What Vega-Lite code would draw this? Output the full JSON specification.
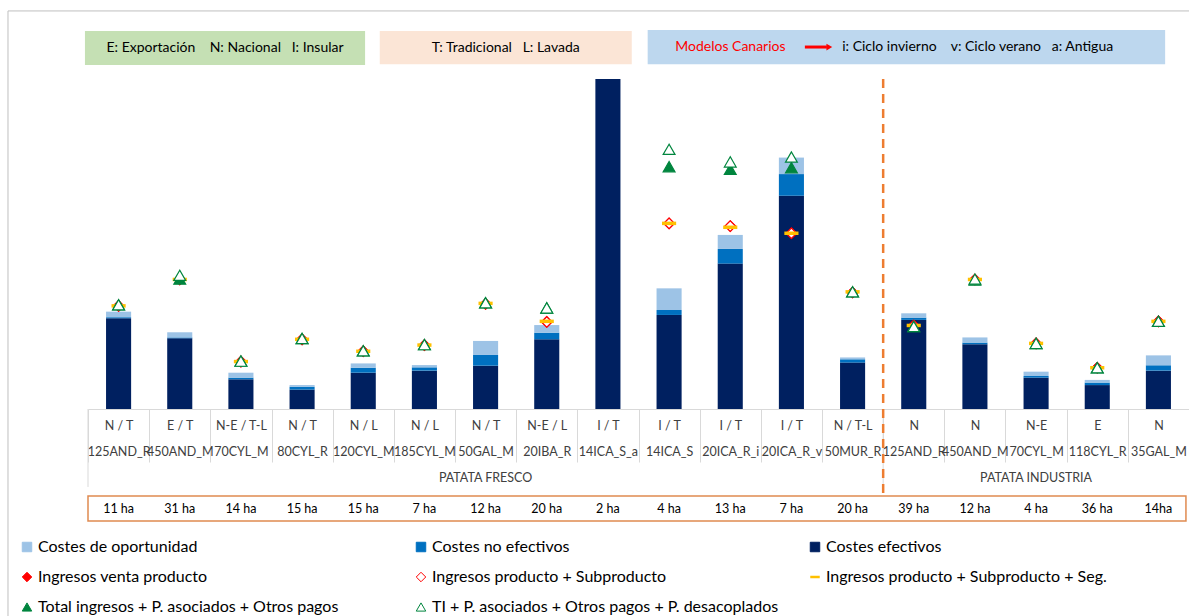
{
  "$schema": "https://vega.github.io/schema/vega-lite/v6.json",
  "autosize": {"type": "none"},
  "padding": {"left": 88, "top": 79, "right": 0, "bottom": 207},
  "width": 1101,
  "height": 330,
  "background": "white",
  "config": {
    "font": "Lato",
    "view": {"stroke": null}
  },
  "datasets": {
    "costes": [
      {"cat": "N / T|125AND_R", "serie": "Costes efectivos", "nivel": 1, "valor": 440},
      {"cat": "N / T|125AND_R", "serie": "Costes no efectivos", "nivel": 2, "valor": 5},
      {"cat": "N / T|125AND_R", "serie": "Costes de oportunidad", "nivel": 3, "valor": 27},
      {"cat": "E / T|450AND_M", "serie": "Costes efectivos", "nivel": 1, "valor": 343},
      {"cat": "E / T|450AND_M", "serie": "Costes no efectivos", "nivel": 2, "valor": 4},
      {"cat": "E / T|450AND_M", "serie": "Costes de oportunidad", "nivel": 3, "valor": 25},
      {"cat": "N-E / T-L|70CYL_M", "serie": "Costes efectivos", "nivel": 1, "valor": 144},
      {"cat": "N-E / T-L|70CYL_M", "serie": "Costes no efectivos", "nivel": 2, "valor": 8},
      {"cat": "N-E / T-L|70CYL_M", "serie": "Costes de oportunidad", "nivel": 3, "valor": 24},
      {"cat": "N / T|80CYL_R", "serie": "Costes efectivos", "nivel": 1, "valor": 94},
      {"cat": "N / T|80CYL_R", "serie": "Costes no efectivos", "nivel": 2, "valor": 14},
      {"cat": "N / T|80CYL_R", "serie": "Costes de oportunidad", "nivel": 3, "valor": 8},
      {"cat": "N / L|120CYL_M", "serie": "Costes efectivos", "nivel": 1, "valor": 176},
      {"cat": "N / L|120CYL_M", "serie": "Costes no efectivos", "nivel": 2, "valor": 24},
      {"cat": "N / L|120CYL_M", "serie": "Costes de oportunidad", "nivel": 3, "valor": 21},
      {"cat": "N / L|185CYL_M", "serie": "Costes efectivos", "nivel": 1, "valor": 186},
      {"cat": "N / L|185CYL_M", "serie": "Costes no efectivos", "nivel": 2, "valor": 16},
      {"cat": "N / L|185CYL_M", "serie": "Costes de oportunidad", "nivel": 3, "valor": 11},
      {"cat": "N / T|50GAL_M", "serie": "Costes efectivos", "nivel": 1, "valor": 210},
      {"cat": "N / T|50GAL_M", "serie": "Costes no efectivos", "nivel": 2, "valor": 52},
      {"cat": "N / T|50GAL_M", "serie": "Costes de oportunidad", "nivel": 3, "valor": 68},
      {"cat": "N-E / L|20IBA_R", "serie": "Costes efectivos", "nivel": 1, "valor": 338},
      {"cat": "N-E / L|20IBA_R", "serie": "Costes no efectivos", "nivel": 2, "valor": 32},
      {"cat": "N-E / L|20IBA_R", "serie": "Costes de oportunidad", "nivel": 3, "valor": 37},
      {"cat": "I / T|14ICA_S_a", "serie": "Costes efectivos", "nivel": 1, "valor": 2100},
      {"cat": "I / T|14ICA_S", "serie": "Costes efectivos", "nivel": 1, "valor": 456},
      {"cat": "I / T|14ICA_S", "serie": "Costes no efectivos", "nivel": 2, "valor": 24},
      {"cat": "I / T|14ICA_S", "serie": "Costes de oportunidad", "nivel": 3, "valor": 105},
      {"cat": "I / T|20ICA_R_i", "serie": "Costes efectivos", "nivel": 1, "valor": 705},
      {"cat": "I / T|20ICA_R_i", "serie": "Costes no efectivos", "nivel": 2, "valor": 71},
      {"cat": "I / T|20ICA_R_i", "serie": "Costes de oportunidad", "nivel": 3, "valor": 68},
      {"cat": "I / T|20ICA_R_v", "serie": "Costes efectivos", "nivel": 1, "valor": 1034},
      {"cat": "I / T|20ICA_R_v", "serie": "Costes no efectivos", "nivel": 2, "valor": 105},
      {"cat": "I / T|20ICA_R_v", "serie": "Costes de oportunidad", "nivel": 3, "valor": 80},
      {"cat": "N / T-L|50MUR_R", "serie": "Costes efectivos", "nivel": 1, "valor": 225},
      {"cat": "N / T-L|50MUR_R", "serie": "Costes no efectivos", "nivel": 2, "valor": 16},
      {"cat": "N / T-L|50MUR_R", "serie": "Costes de oportunidad", "nivel": 3, "valor": 9},
      {"cat": "N|125AND_R", "serie": "Costes efectivos", "nivel": 1, "valor": 432},
      {"cat": "N|125AND_R", "serie": "Costes no efectivos", "nivel": 2, "valor": 11},
      {"cat": "N|125AND_R", "serie": "Costes de oportunidad", "nivel": 3, "valor": 21},
      {"cat": "N|450AND_M", "serie": "Costes efectivos", "nivel": 1, "valor": 314},
      {"cat": "N|450AND_M", "serie": "Costes no efectivos", "nivel": 2, "valor": 8},
      {"cat": "N|450AND_M", "serie": "Costes de oportunidad", "nivel": 3, "valor": 25},
      {"cat": "N-E|70CYL_M", "serie": "Costes efectivos", "nivel": 1, "valor": 152},
      {"cat": "N-E|70CYL_M", "serie": "Costes no efectivos", "nivel": 2, "valor": 8},
      {"cat": "N-E|70CYL_M", "serie": "Costes de oportunidad", "nivel": 3, "valor": 21},
      {"cat": "E|118CYL_R", "serie": "Costes efectivos", "nivel": 1, "valor": 116},
      {"cat": "E|118CYL_R", "serie": "Costes no efectivos", "nivel": 2, "valor": 12},
      {"cat": "E|118CYL_R", "serie": "Costes de oportunidad", "nivel": 3, "valor": 13},
      {"cat": "N|35GAL_M", "serie": "Costes efectivos", "nivel": 1, "valor": 186},
      {"cat": "N|35GAL_M", "serie": "Costes no efectivos", "nivel": 2, "valor": 26},
      {"cat": "N|35GAL_M", "serie": "Costes de oportunidad", "nivel": 3, "valor": 48}
    ],
    "ingresos": [
      {"cat": "N / T|125AND_R", "serie": "Ingresos venta producto", "valor": 500},
      {"cat": "N / T|125AND_R", "serie": "Ingresos producto + Subproducto", "valor": 500},
      {"cat": "N / T|125AND_R", "serie": "Ingresos producto + Subproducto + Seg.", "valor": 500},
      {"cat": "N / T|125AND_R", "serie": "Total ingresos + P. asociados + Otros pagos", "valor": 505},
      {"cat": "N / T|125AND_R", "serie": "TI + P. asociados + Otros pagos + P. desacoplados", "valor": 505},
      {"cat": "E / T|450AND_M", "serie": "Ingresos venta producto", "valor": 628},
      {"cat": "E / T|450AND_M", "serie": "Ingresos producto + Subproducto", "valor": 628},
      {"cat": "E / T|450AND_M", "serie": "Ingresos producto + Subproducto + Seg.", "valor": 628},
      {"cat": "E / T|450AND_M", "serie": "Total ingresos + P. asociados + Otros pagos", "valor": 630},
      {"cat": "E / T|450AND_M", "serie": "TI + P. asociados + Otros pagos + P. desacoplados", "valor": 648},
      {"cat": "N-E / T-L|70CYL_M", "serie": "Ingresos venta producto", "valor": 230},
      {"cat": "N-E / T-L|70CYL_M", "serie": "Ingresos producto + Subproducto", "valor": 230},
      {"cat": "N-E / T-L|70CYL_M", "serie": "Ingresos producto + Subproducto + Seg.", "valor": 230},
      {"cat": "N-E / T-L|70CYL_M", "serie": "Total ingresos + P. asociados + Otros pagos", "valor": 232},
      {"cat": "N-E / T-L|70CYL_M", "serie": "TI + P. asociados + Otros pagos + P. desacoplados", "valor": 232},
      {"cat": "N / T|80CYL_R", "serie": "Ingresos venta producto", "valor": 338},
      {"cat": "N / T|80CYL_R", "serie": "Ingresos producto + Subproducto", "valor": 338},
      {"cat": "N / T|80CYL_R", "serie": "Ingresos producto + Subproducto + Seg.", "valor": 338},
      {"cat": "N / T|80CYL_R", "serie": "Total ingresos + P. asociados + Otros pagos", "valor": 342},
      {"cat": "N / T|80CYL_R", "serie": "TI + P. asociados + Otros pagos + P. desacoplados", "valor": 342},
      {"cat": "N / L|120CYL_M", "serie": "Ingresos venta producto", "valor": 280},
      {"cat": "N / L|120CYL_M", "serie": "Ingresos producto + Subproducto", "valor": 280},
      {"cat": "N / L|120CYL_M", "serie": "Ingresos producto + Subproducto + Seg.", "valor": 280},
      {"cat": "N / L|120CYL_M", "serie": "Total ingresos + P. asociados + Otros pagos", "valor": 282},
      {"cat": "N / L|120CYL_M", "serie": "TI + P. asociados + Otros pagos + P. desacoplados", "valor": 282},
      {"cat": "N / L|185CYL_M", "serie": "Ingresos venta producto", "valor": 310},
      {"cat": "N / L|185CYL_M", "serie": "Ingresos producto + Subproducto", "valor": 310},
      {"cat": "N / L|185CYL_M", "serie": "Ingresos producto + Subproducto + Seg.", "valor": 310},
      {"cat": "N / L|185CYL_M", "serie": "Total ingresos + P. asociados + Otros pagos", "valor": 312},
      {"cat": "N / L|185CYL_M", "serie": "TI + P. asociados + Otros pagos + P. desacoplados", "valor": 312},
      {"cat": "N / T|50GAL_M", "serie": "Ingresos venta producto", "valor": 510},
      {"cat": "N / T|50GAL_M", "serie": "Ingresos producto + Subproducto", "valor": 510},
      {"cat": "N / T|50GAL_M", "serie": "Ingresos producto + Subproducto + Seg.", "valor": 512},
      {"cat": "N / T|50GAL_M", "serie": "Total ingresos + P. asociados + Otros pagos", "valor": 515},
      {"cat": "N / T|50GAL_M", "serie": "TI + P. asociados + Otros pagos + P. desacoplados", "valor": 515},
      {"cat": "N-E / L|20IBA_R", "serie": "Ingresos venta producto", "valor": 422},
      {"cat": "N-E / L|20IBA_R", "serie": "Ingresos producto + Subproducto", "valor": 422},
      {"cat": "N-E / L|20IBA_R", "serie": "Ingresos producto + Subproducto + Seg.", "valor": 425},
      {"cat": "N-E / L|20IBA_R", "serie": "Total ingresos + P. asociados + Otros pagos", "valor": 490},
      {"cat": "N-E / L|20IBA_R", "serie": "TI + P. asociados + Otros pagos + P. desacoplados", "valor": 490},
      {"cat": "I / T|14ICA_S", "serie": "Ingresos venta producto", "valor": 900},
      {"cat": "I / T|14ICA_S", "serie": "Ingresos producto + Subproducto", "valor": 900},
      {"cat": "I / T|14ICA_S", "serie": "Ingresos producto + Subproducto + Seg.", "valor": 900},
      {"cat": "I / T|14ICA_S", "serie": "Total ingresos + P. asociados + Otros pagos", "valor": 1175},
      {"cat": "I / T|14ICA_S", "serie": "TI + P. asociados + Otros pagos + P. desacoplados", "valor": 1259},
      {"cat": "I / T|20ICA_R_i", "serie": "Ingresos venta producto", "valor": 887},
      {"cat": "I / T|20ICA_R_i", "serie": "Ingresos producto + Subproducto", "valor": 887},
      {"cat": "I / T|20ICA_R_i", "serie": "Ingresos producto + Subproducto + Seg.", "valor": 881},
      {"cat": "I / T|20ICA_R_i", "serie": "Total ingresos + P. asociados + Otros pagos", "valor": 1162},
      {"cat": "I / T|20ICA_R_i", "serie": "TI + P. asociados + Otros pagos + P. desacoplados", "valor": 1198},
      {"cat": "I / T|20ICA_R_v", "serie": "Ingresos venta producto", "valor": 852},
      {"cat": "I / T|20ICA_R_v", "serie": "Ingresos producto + Subproducto", "valor": 852},
      {"cat": "I / T|20ICA_R_v", "serie": "Ingresos producto + Subproducto + Seg.", "valor": 852},
      {"cat": "I / T|20ICA_R_v", "serie": "Total ingresos + P. asociados + Otros pagos", "valor": 1170},
      {"cat": "I / T|20ICA_R_v", "serie": "TI + P. asociados + Otros pagos + P. desacoplados", "valor": 1222},
      {"cat": "N / T-L|50MUR_R", "serie": "Ingresos venta producto", "valor": 565},
      {"cat": "N / T-L|50MUR_R", "serie": "Ingresos producto + Subproducto", "valor": 565},
      {"cat": "N / T-L|50MUR_R", "serie": "Ingresos producto + Subproducto + Seg.", "valor": 568},
      {"cat": "N / T-L|50MUR_R", "serie": "Total ingresos + P. asociados + Otros pagos", "valor": 568},
      {"cat": "N / T-L|50MUR_R", "serie": "TI + P. asociados + Otros pagos + P. desacoplados", "valor": 568},
      {"cat": "N|125AND_R", "serie": "Ingresos venta producto", "valor": 405},
      {"cat": "N|125AND_R", "serie": "Ingresos producto + Subproducto", "valor": 405},
      {"cat": "N|125AND_R", "serie": "Ingresos producto + Subproducto + Seg.", "valor": 405},
      {"cat": "N|125AND_R", "serie": "Total ingresos + P. asociados + Otros pagos", "valor": 400},
      {"cat": "N|125AND_R", "serie": "TI + P. asociados + Otros pagos + P. desacoplados", "valor": 400},
      {"cat": "N|450AND_M", "serie": "Ingresos venta producto", "valor": 628},
      {"cat": "N|450AND_M", "serie": "Ingresos producto + Subproducto", "valor": 628},
      {"cat": "N|450AND_M", "serie": "Ingresos producto + Subproducto + Seg.", "valor": 628},
      {"cat": "N|450AND_M", "serie": "Total ingresos + P. asociados + Otros pagos", "valor": 625},
      {"cat": "N|450AND_M", "serie": "TI + P. asociados + Otros pagos + P. desacoplados", "valor": 630},
      {"cat": "N-E|70CYL_M", "serie": "Ingresos venta producto", "valor": 318},
      {"cat": "N-E|70CYL_M", "serie": "Ingresos producto + Subproducto", "valor": 318},
      {"cat": "N-E|70CYL_M", "serie": "Ingresos producto + Subproducto + Seg.", "valor": 318},
      {"cat": "N-E|70CYL_M", "serie": "Total ingresos + P. asociados + Otros pagos", "valor": 318},
      {"cat": "N-E|70CYL_M", "serie": "TI + P. asociados + Otros pagos + P. desacoplados", "valor": 318},
      {"cat": "E|118CYL_R", "serie": "Ingresos venta producto", "valor": 200},
      {"cat": "E|118CYL_R", "serie": "Ingresos producto + Subproducto", "valor": 200},
      {"cat": "E|118CYL_R", "serie": "Ingresos producto + Subproducto + Seg.", "valor": 200},
      {"cat": "E|118CYL_R", "serie": "Total ingresos + P. asociados + Otros pagos", "valor": 200},
      {"cat": "E|118CYL_R", "serie": "TI + P. asociados + Otros pagos + P. desacoplados", "valor": 200},
      {"cat": "N|35GAL_M", "serie": "Ingresos venta producto", "valor": 425},
      {"cat": "N|35GAL_M", "serie": "Ingresos producto + Subproducto", "valor": 425},
      {"cat": "N|35GAL_M", "serie": "Ingresos producto + Subproducto + Seg.", "valor": 425},
      {"cat": "N|35GAL_M", "serie": "Total ingresos + P. asociados + Otros pagos", "valor": 425},
      {"cat": "N|35GAL_M", "serie": "TI + P. asociados + Otros pagos + P. desacoplados", "valor": 425}
    ],
    "fincas": [
      {"cat": "N / T|125AND_R", "superficie": "11 ha"},
      {"cat": "E / T|450AND_M", "superficie": "31 ha"},
      {"cat": "N-E / T-L|70CYL_M", "superficie": "14 ha"},
      {"cat": "N / T|80CYL_R", "superficie": "15 ha"},
      {"cat": "N / L|120CYL_M", "superficie": "15 ha"},
      {"cat": "N / L|185CYL_M", "superficie": "7 ha"},
      {"cat": "N / T|50GAL_M", "superficie": "12 ha"},
      {"cat": "N-E / L|20IBA_R", "superficie": "20 ha"},
      {"cat": "I / T|14ICA_S_a", "superficie": "2 ha"},
      {"cat": "I / T|14ICA_S", "superficie": "4 ha"},
      {"cat": "I / T|20ICA_R_i", "superficie": "13 ha"},
      {"cat": "I / T|20ICA_R_v", "superficie": "7 ha"},
      {"cat": "N / T-L|50MUR_R", "superficie": "20 ha"},
      {"cat": "N|125AND_R", "superficie": "39 ha"},
      {"cat": "N|450AND_M", "superficie": "12 ha"},
      {"cat": "N-E|70CYL_M", "superficie": "4 ha"},
      {"cat": "E|118CYL_R", "superficie": "36 ha"},
      {"cat": "N|35GAL_M", "superficie": "14ha"}
    ],
    "grupos": [
      {"cat": "N / T|50GAL_M", "grupo": "PATATA FRESCO"},
      {"cat": "N-E|70CYL_M", "grupo": "PATATA INDUSTRIA"}
    ]
  },
  "resolve": {"scale": {"x": "independent"}},
  "layer": [
    {
      "data": {"values": [{}]},
      "layer": [
        {
          "mark": {"type": "rect", "fill": "transparent", "stroke": "#BFBFBF", "strokeWidth": 1},
          "encoding": {
            "x": {"datum": -1.308, "type": "quantitative", "scale": {"domain": [0, 18], "nice": false, "zero": false}, "axis": null},
            "x2": {"datum": 19},
            "y": {"datum": 1930, "type": "quantitative", "scale": {"domain": [0, 1600], "nice": false}, "axis": null},
            "y2": {"datum": -1500}
          }
        },
        {
          "mark": {"type": "rect", "fill": "#C5E0B4"},
          "encoding": {"x": {"datum": -0.05, "type": "quantitative", "axis": null}, "x2": {"datum": 4.53}, "y": {"datum": 1833, "type": "quantitative", "axis": null}, "y2": {"datum": 1668}}
        },
        {
          "mark": {"type": "rect", "fill": "#FBE5D6"},
          "encoding": {"x": {"datum": 4.77, "type": "quantitative", "axis": null}, "x2": {"datum": 8.89}, "y": {"datum": 1833, "type": "quantitative", "axis": null}, "y2": {"datum": 1672}}
        },
        {
          "mark": {"type": "rect", "fill": "#BDD7EE"},
          "encoding": {"x": {"datum": 9.15, "type": "quantitative", "axis": null}, "x2": {"datum": 17.61}, "y": {"datum": 1838, "type": "quantitative", "axis": null}, "y2": {"datum": 1672}}
        },
        {
          "mark": {"type": "rect", "fill": "transparent", "stroke": "#E08B50", "strokeWidth": 1.5},
          "encoding": {"x": {"datum": 0, "type": "quantitative", "axis": null}, "x2": {"datum": 17.95}, "y": {"datum": -422, "type": "quantitative", "axis": null}, "y2": {"datum": -543}}
        },
        {
          "mark": {"type": "text", "text": "E: Exportación\u00a0\u00a0\u00a0\u00a0N: Nacional\u00a0\u00a0\u00a0I: Insular", "fontSize": 14, "color": "#000000", "align": "center", "baseline": "middle"},
          "encoding": {"x": {"datum": 2.24, "type": "quantitative", "axis": null}, "y": {"datum": 1752, "type": "quantitative", "axis": null}}
        },
        {
          "mark": {"type": "text", "text": "T: Tradicional\u00a0\u00a0\u00a0L: Lavada", "fontSize": 14, "color": "#000000", "align": "center", "baseline": "middle"},
          "encoding": {"x": {"datum": 6.83, "type": "quantitative", "axis": null}, "y": {"datum": 1752, "type": "quantitative", "axis": null}}
        },
        {
          "mark": {"type": "text", "text": "Modelos Canarios", "fontSize": 14, "color": "#FF0000", "align": "left", "baseline": "middle"},
          "encoding": {"x": {"datum": 9.6, "type": "quantitative", "axis": null}, "y": {"datum": 1755, "type": "quantitative", "axis": null}}
        },
        {
          "mark": {"type": "rule", "color": "#FF0000", "strokeWidth": 3},
          "encoding": {"x": {"datum": 11.72, "type": "quantitative", "axis": null}, "x2": {"datum": 12.08}, "y": {"datum": 1755, "type": "quantitative", "axis": null}}
        },
        {
          "mark": {"type": "point", "shape": "triangle-right", "filled": true, "color": "#FF0000", "opacity": 1, "size": 45},
          "encoding": {"x": {"datum": 12.12, "type": "quantitative", "axis": null}, "y": {"datum": 1755, "type": "quantitative", "axis": null}}
        },
        {
          "mark": {"type": "text", "text": "i: Ciclo invierno\u00a0\u00a0\u00a0\u00a0v: Ciclo verano\u00a0\u00a0\u00a0a: Antigua", "fontSize": 14, "color": "#000000", "align": "left", "baseline": "middle"},
          "encoding": {"x": {"datum": 12.33, "type": "quantitative", "axis": null}, "y": {"datum": 1755, "type": "quantitative", "axis": null}}
        }
      ]
    },
    {
      "layer": [
        {
          "data": {"name": "costes"},
          "mark": {"type": "bar", "width": {"band": 0.41}, "clip": true},
          "encoding": {
            "x": {
              "field": "cat", "type": "nominal",
              "scale": {"domain": ["N / T|125AND_R", "E / T|450AND_M", "N-E / T-L|70CYL_M", "N / T|80CYL_R", "N / L|120CYL_M", "N / L|185CYL_M", "N / T|50GAL_M", "N-E / L|20IBA_R", "I / T|14ICA_S_a", "I / T|14ICA_S", "I / T|20ICA_R_i", "I / T|20ICA_R_v", "N / T-L|50MUR_R", "N|125AND_R", "N|450AND_M", "N-E|70CYL_M", "E|118CYL_R", "N|35GAL_M"], "paddingInner": 0, "paddingOuter": 0},
              "axis": {"orient": "bottom", "title": null, "labelAngle": 0, "labelExpr": "split(datum.label, '|')", "labelFont": "Lato", "labelFontSize": 12.5, "labelLineHeight": 26, "labelBaseline": "top", "labelPadding": -43, "labelColor": "#404040", "labelOverlap": false, "tickBand": "extent", "tickSize": 53, "tickColor": "#D9D9D9", "domainColor": "#D9D9D9", "grid": false}
            },
            "y": {
              "field": "valor", "type": "quantitative", "stack": "zero",
              "scale": {"domain": [0, 1600], "nice": false},
              "axis": {"orient": "left", "title": null, "values": [0, 200, 400, 600, 800, 1000, 1200, 1400, 1600], "labelExpr": "replace(format(datum.value, ','), ',', '.')", "labelFont": "Lato", "labelFontSize": 19, "labelColor": "#000000", "labelPadding": 22, "ticks": false, "domain": false, "grid": true, "gridColor": "#D9D9D9"}
            },
            "order": {"field": "nivel", "type": "quantitative"},
            "fill": {
              "field": "serie", "type": "nominal",
              "scale": {
                "domain": ["Costes de oportunidad", "Ingresos venta producto", "Total ingresos + P. asociados + Otros pagos", "Costes no efectivos", "Ingresos producto + Subproducto", "TI + P. asociados + Otros pagos + P. desacoplados", "Costes efectivos", "Ingresos producto + Subproducto + Seg."],
                "range": ["#9DC3E6", "#FF0000", "#00853E", "#0070C0", "#FFFFFF", "#FFFFFF", "#002060", "#FFC000"]
              },
              "legend": {
                "title": null, "orient": "none", "legendX": -69, "legendY": 460, "columns": 3, "gridAlign": "all", "columnPadding": 26, "rowPadding": 14, "labelFont": "Lato", "labelFontSize": 16, "labelColor": "#000000", "symbolSize": 90, "labelOffset": 3, "labelLimit": 500, "padding": 0,
                "encode": {
                  "symbols": {
                    "update": {
                      "shape": {"signal": "(datum.value === 'Ingresos venta producto' || datum.value === 'Ingresos producto + Subproducto') ? 'diamond' : (datum.value === 'Ingresos producto + Subproducto + Seg.' ? 'stroke' : ((datum.value === 'Total ingresos + P. asociados + Otros pagos' || datum.value === 'TI + P. asociados + Otros pagos + P. desacoplados') ? 'triangle-up' : 'square'))"},
                      "stroke": {"signal": "datum.value === 'Costes de oportunidad' ? '#9DC3E6' : (datum.value === 'Costes no efectivos' ? '#0070C0' : (datum.value === 'Costes efectivos' ? '#002060' : ((datum.value === 'Ingresos venta producto' || datum.value === 'Ingresos producto + Subproducto') ? '#FF0000' : (datum.value === 'Ingresos producto + Subproducto + Seg.' ? '#FFC000' : '#00853E'))))"},
                      "strokeWidth": {"signal": "datum.value === 'Ingresos producto + Subproducto + Seg.' ? 2.5 : 1"}
                    }
                  }
                }
              }
            }
          }
        },
        {
          "data": {"name": "ingresos"},
          "transform": [{"filter": {"field": "serie", "oneOf": ["Ingresos venta producto", "Ingresos producto + Subproducto"]}}],
          "mark": {"type": "point", "filled": true, "opacity": 1, "size": 110, "strokeWidth": 1.2},
          "encoding": {
            "x": {"field": "cat", "type": "nominal"},
            "y": {"field": "valor", "type": "quantitative"},
            "fill": {"field": "serie", "type": "nominal"},
            "stroke": {"field": "serie", "type": "nominal", "scale": {"domain": ["Ingresos venta producto", "Ingresos producto + Subproducto", "Ingresos producto + Subproducto + Seg.", "Total ingresos + P. asociados + Otros pagos", "TI + P. asociados + Otros pagos + P. desacoplados"], "range": ["#FF0000", "#FF0000", "#FFC000", "#00853E", "#00853E"]}, "legend": null},
            "shape": {"field": "serie", "type": "nominal", "scale": {"domain": ["Ingresos venta producto", "Ingresos producto + Subproducto", "Ingresos producto + Subproducto + Seg.", "Total ingresos + P. asociados + Otros pagos", "TI + P. asociados + Otros pagos + P. desacoplados"], "range": ["diamond", "diamond", "stroke", "triangle-up", "triangle-up"]}, "legend": null}
          }
        },
        {
          "data": {"name": "ingresos"},
          "transform": [{"filter": {"field": "serie", "equal": "Ingresos producto + Subproducto + Seg."}}],
          "mark": {"type": "point", "filled": true, "opacity": 1, "size": 200, "strokeWidth": 3.5},
          "encoding": {
            "x": {"field": "cat", "type": "nominal"},
            "y": {"field": "valor", "type": "quantitative"},
            "fill": {"field": "serie", "type": "nominal"},
            "stroke": {"field": "serie", "type": "nominal", "legend": null},
            "shape": {"field": "serie", "type": "nominal", "legend": null}
          }
        },
        {
          "data": {"name": "ingresos"},
          "transform": [{"filter": {"field": "serie", "oneOf": ["Total ingresos + P. asociados + Otros pagos", "TI + P. asociados + Otros pagos + P. desacoplados"]}}],
          "mark": {"type": "point", "filled": true, "opacity": 1, "size": 140, "strokeWidth": 1.2},
          "encoding": {
            "x": {"field": "cat", "type": "nominal"},
            "y": {"field": "valor", "type": "quantitative"},
            "fill": {"field": "serie", "type": "nominal"},
            "stroke": {"field": "serie", "type": "nominal", "legend": null},
            "shape": {"field": "serie", "type": "nominal", "legend": null}
          }
        },
        {
          "data": {"values": [{}]},
          "mark": {"type": "rule", "color": "#D9D9D9", "strokeWidth": 1},
          "encoding": {
            "x": {"datum": "N / T|125AND_R", "type": "nominal", "bandPosition": 0},
            "y": {"datum": 0, "type": "quantitative"},
            "y2": {"datum": -378}
          }
        },
        {
          "data": {"values": [{}]},
          "mark": {"type": "rule", "color": "#D9D9D9", "strokeWidth": 1},
          "encoding": {
            "x": {"datum": "N|125AND_R", "type": "nominal", "bandPosition": 0},
            "y": {"datum": 0, "type": "quantitative"},
            "y2": {"datum": -378}
          }
        },
        {
          "data": {"values": [{}]},
          "mark": {"type": "rule", "color": "#ED7D31", "strokeWidth": 2.5, "strokeDash": [9, 6]},
          "encoding": {
            "x": {"datum": "N|125AND_R", "type": "nominal", "bandPosition": 0},
            "y": {"datum": 1600, "type": "quantitative"},
            "y2": {"datum": -427}
          }
        },
        {
          "data": {"name": "grupos"},
          "mark": {"type": "text", "fontSize": 12.5, "color": "#404040", "baseline": "middle", "align": "center"},
          "encoding": {
            "x": {"field": "cat", "type": "nominal"},
            "y": {"datum": -334, "type": "quantitative"},
            "text": {"field": "grupo"}
          }
        },
        {
          "data": {"name": "fincas"},
          "mark": {"type": "text", "fontSize": 12.5, "color": "#000000", "baseline": "middle", "align": "center"},
          "encoding": {
            "x": {"field": "cat", "type": "nominal"},
            "y": {"datum": -485, "type": "quantitative"},
            "text": {"field": "superficie"}
          }
        }
      ]
    }
  ]
}
